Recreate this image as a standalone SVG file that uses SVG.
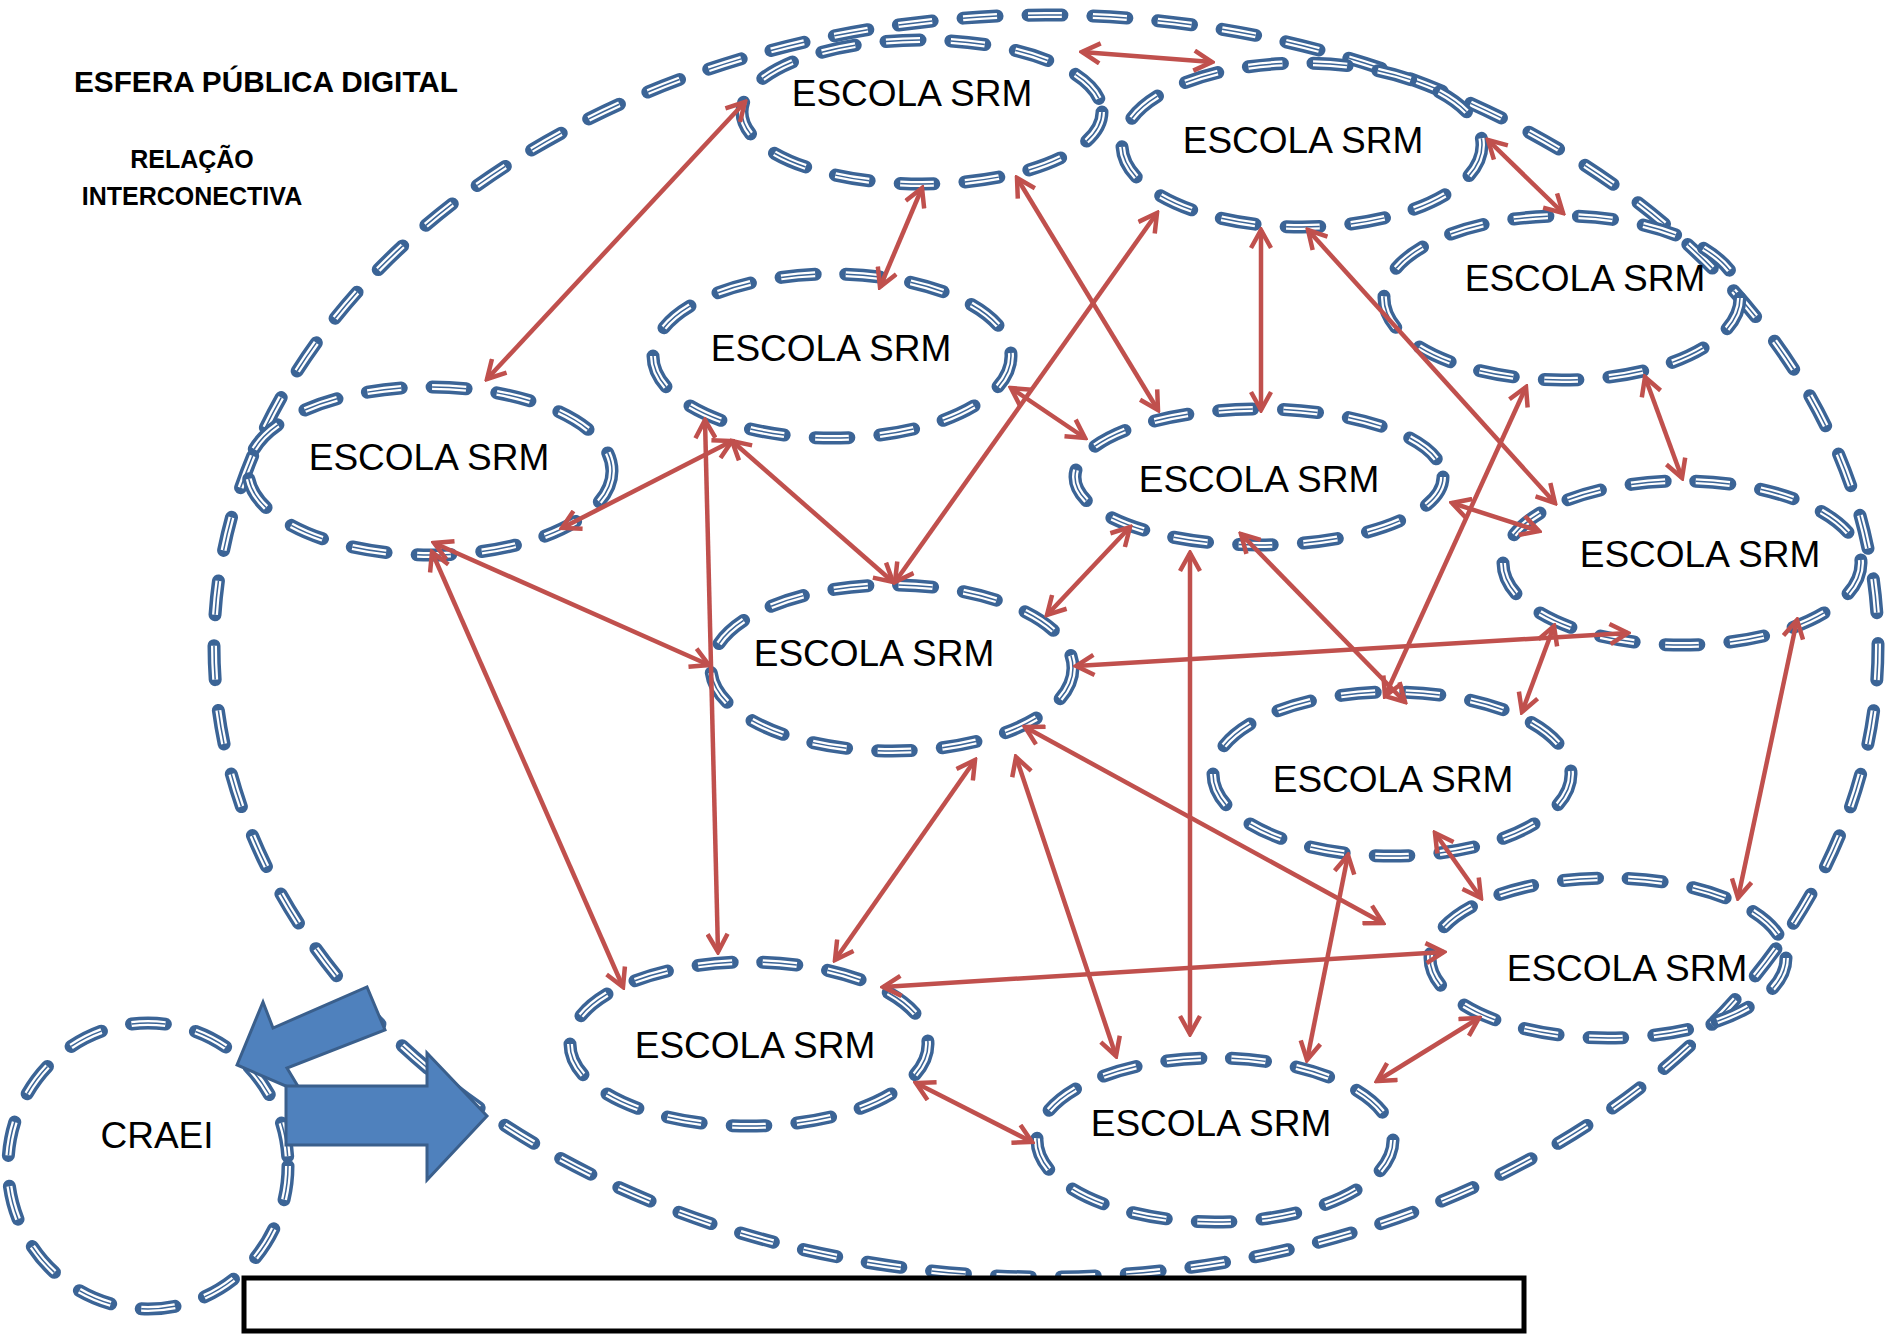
<svg xmlns="http://www.w3.org/2000/svg" width="1886" height="1334" viewBox="0 0 1886 1334">
<style>
.d1{fill:none;stroke:#3b6496;stroke-width:13;stroke-linecap:round;stroke-dasharray:34 31}
.d2{fill:none;stroke:#ffffff;stroke-width:6;stroke-dasharray:34 31}
.d3{fill:none;stroke:#3b6496;stroke-width:1.5;stroke-dasharray:34 31}
.lbl{font-family:"Liberation Sans",Arial,sans-serif;font-size:37px;fill:#000;text-anchor:middle}
.ttl{font-family:"Liberation Sans",Arial,sans-serif;font-weight:bold;fill:#000}
.cn line{stroke:#c0504d;stroke-width:4.5;marker-start:url(#ah);marker-end:url(#ah)}
.big{fill:#4f81bd;stroke:#3a5f8c;stroke-width:3;stroke-linejoin:miter}
</style>
<defs>
<marker id="ah" markerUnits="userSpaceOnUse" viewBox="0 0 24 24" refX="21" refY="12" markerWidth="24" markerHeight="24" orient="auto-start-reverse">
<path d="M3,2 L21,12 L3,22" fill="none" stroke="#c0504d" stroke-width="4.5"/>
</marker>
</defs>
<rect x="0" y="0" width="1886" height="1334" fill="#ffffff"/>

<g id="esfera">
<ellipse class="d1" cx="1046" cy="646" rx="832" ry="631"/>
<ellipse class="d2" cx="1046" cy="646" rx="832" ry="631"/>
<ellipse class="d3" cx="1046" cy="646" rx="832" ry="631"/>
</g>

<g id="n1"><ellipse class="d1" cx="922" cy="112" rx="180" ry="72"/><ellipse class="d2" cx="922" cy="112" rx="180" ry="72"/><ellipse class="d3" cx="922" cy="112" rx="180" ry="72"/><text class="lbl" x="912" y="106">ESCOLA SRM</text></g>
<g id="n2"><ellipse class="d1" cx="1302" cy="145" rx="180" ry="82"/><ellipse class="d2" cx="1302" cy="145" rx="180" ry="82"/><ellipse class="d3" cx="1302" cy="145" rx="180" ry="82"/><text class="lbl" x="1303" y="153">ESCOLA SRM</text></g>
<g id="n3"><ellipse class="d1" cx="1562" cy="298" rx="178" ry="82"/><ellipse class="d2" cx="1562" cy="298" rx="178" ry="82"/><ellipse class="d3" cx="1562" cy="298" rx="178" ry="82"/><text class="lbl" x="1585" y="291">ESCOLA SRM</text></g>
<g id="n4"><ellipse class="d1" cx="832" cy="356" rx="179" ry="82"/><ellipse class="d2" cx="832" cy="356" rx="179" ry="82"/><ellipse class="d3" cx="832" cy="356" rx="179" ry="82"/><text class="lbl" x="831" y="361">ESCOLA SRM</text></g>
<g id="n5"><ellipse class="d1" cx="430" cy="471" rx="182" ry="84"/><ellipse class="d2" cx="430" cy="471" rx="182" ry="84"/><ellipse class="d3" cx="430" cy="471" rx="182" ry="84"/><text class="lbl" x="429" y="470">ESCOLA SRM</text></g>
<g id="n6"><ellipse class="d1" cx="1259" cy="477" rx="184" ry="68"/><ellipse class="d2" cx="1259" cy="477" rx="184" ry="68"/><ellipse class="d3" cx="1259" cy="477" rx="184" ry="68"/><text class="lbl" x="1259" y="492">ESCOLA SRM</text></g>
<g id="n7"><ellipse class="d1" cx="1682" cy="563" rx="179" ry="82"/><ellipse class="d2" cx="1682" cy="563" rx="179" ry="82"/><ellipse class="d3" cx="1682" cy="563" rx="179" ry="82"/><text class="lbl" x="1700" y="567">ESCOLA SRM</text></g>
<g id="n8"><ellipse class="d1" cx="892" cy="668" rx="181" ry="83"/><ellipse class="d2" cx="892" cy="668" rx="181" ry="83"/><ellipse class="d3" cx="892" cy="668" rx="181" ry="83"/><text class="lbl" x="874" y="666">ESCOLA SRM</text></g>
<g id="n9"><ellipse class="d1" cx="1392" cy="774" rx="179" ry="82"/><ellipse class="d2" cx="1392" cy="774" rx="179" ry="82"/><ellipse class="d3" cx="1392" cy="774" rx="179" ry="82"/><text class="lbl" x="1393" y="792">ESCOLA SRM</text></g>
<g id="n10"><ellipse class="d1" cx="1608" cy="958" rx="178" ry="80"/><ellipse class="d2" cx="1608" cy="958" rx="178" ry="80"/><ellipse class="d3" cx="1608" cy="958" rx="178" ry="80"/><text class="lbl" x="1627" y="981">ESCOLA SRM</text></g>
<g id="n11"><ellipse class="d1" cx="749" cy="1044" rx="179" ry="82"/><ellipse class="d2" cx="749" cy="1044" rx="179" ry="82"/><ellipse class="d3" cx="749" cy="1044" rx="179" ry="82"/><text class="lbl" x="755" y="1058">ESCOLA SRM</text></g>
<g id="n12"><ellipse class="d1" cx="1215" cy="1140" rx="178" ry="82"/><ellipse class="d2" cx="1215" cy="1140" rx="178" ry="82"/><ellipse class="d3" cx="1215" cy="1140" rx="178" ry="82"/><text class="lbl" x="1211" y="1136">ESCOLA SRM</text></g>
<g id="craei"><ellipse class="d1" cx="148" cy="1166" rx="140" ry="143"/><ellipse class="d2" cx="148" cy="1166" rx="140" ry="143"/><ellipse class="d3" cx="148" cy="1166" rx="140" ry="143"/><text class="lbl" x="157" y="1148">CRAEI</text></g>

<g id="connectors" class="cn">
<line x1="1082" y1="52" x2="1212" y2="62"/>
<line x1="745" y1="102" x2="487" y2="379"/>
<line x1="922" y1="188" x2="880" y2="287"/>
<line x1="1017" y1="178" x2="1158" y2="410"/>
<line x1="1488" y1="140" x2="1563" y2="213"/>
<line x1="1261" y1="230" x2="1261" y2="410"/>
<line x1="1308" y1="230" x2="1555" y2="503"/>
<line x1="1157" y1="213" x2="895" y2="582"/>
<line x1="1645" y1="377" x2="1682" y2="478"/>
<line x1="1526" y1="387" x2="1385" y2="696"/>
<line x1="1011" y1="388" x2="1085" y2="438"/>
<line x1="732" y1="441" x2="562" y2="528"/>
<line x1="732" y1="441" x2="893" y2="582"/>
<line x1="705" y1="420" x2="718" y2="952"/>
<line x1="434" y1="543" x2="709" y2="665"/>
<line x1="432" y1="552" x2="623" y2="987"/>
<line x1="1130" y1="527" x2="1047" y2="615"/>
<line x1="1452" y1="503" x2="1539" y2="531"/>
<line x1="1241" y1="534" x2="1405" y2="702"/>
<line x1="1190" y1="553" x2="1190" y2="1034"/>
<line x1="1076" y1="666" x2="1628" y2="633"/>
<line x1="1554" y1="626" x2="1522" y2="712"/>
<line x1="1797" y1="620" x2="1738" y2="898"/>
<line x1="975" y1="760" x2="835" y2="960"/>
<line x1="1016" y1="757" x2="1116" y2="1056"/>
<line x1="1025" y1="727" x2="1383" y2="923"/>
<line x1="1435" y1="833" x2="1481" y2="898"/>
<line x1="1348" y1="855" x2="1307" y2="1060"/>
<line x1="883" y1="987" x2="1444" y2="952"/>
<line x1="916" y1="1083" x2="1032" y2="1142"/>
<line x1="1377" y1="1081" x2="1479" y2="1018"/>
</g>

<g id="big-arrows">
<polygon class="big" points="237,1065 263,1002 273,1028 367,987 385,1030 287,1068 302,1093"/>
<polygon class="big" points="286,1086 427,1086 427,1053 487,1116 427,1180 427,1145 286,1145"/>
</g>

<g id="titles">
<text class="ttl" x="74" y="92" font-size="30" textLength="384" lengthAdjust="spacingAndGlyphs">ESFERA PÚBLICA DIGITAL</text>
<text class="ttl" x="192" y="168" font-size="25" text-anchor="middle">RELAÇÃO</text>
<text class="ttl" x="192" y="205" font-size="25" text-anchor="middle">INTERCONECTIVA</text>
</g>

<g id="footer">
<rect x="244" y="1278" width="1280" height="53" fill="#ffffff" stroke="#000000" stroke-width="5"/>
</g>
</svg>
